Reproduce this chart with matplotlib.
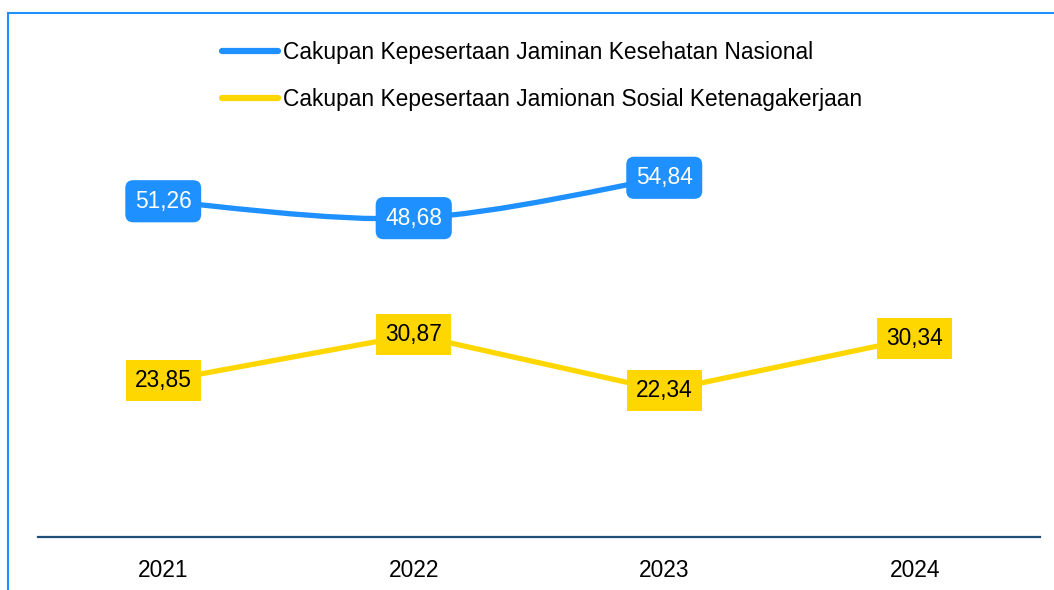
import numpy as np
import matplotlib.pyplot as plt
from matplotlib.path import Path
from matplotlib.patches import PathPatch
from matplotlib.lines import Line2D

plt.rcParams['font.family'] = ['Liberation Sans', 'DejaVu Sans']

# data
years = ['2021', '2022', '2023', '2024']
jkn = [51.26, 48.68, 54.84]          # 2024 kosong
bpjstk = [23.85, 30.87, 22.34, 30.34]
label_jkn = 'Cakupan Kepesertaan Jaminan Kesehatan Nasional'
label_tk = 'Cakupan Kepesertaan Jamionan Sosial Ketenagakerjaan'

blue = '#1E90FF'
gold = '#FFD700'
fs = 16.4

fig = plt.figure(figsize=(10.54, 5.9), dpi=100)
ax = fig.add_axes([38 / 1054, 1 - 537 / 590, 1002 / 1054, 524 / 590])
ax.set_xlim(-0.5, 3.5)
ax.set_ylim(0, 80)

# garis halus (bezier) untuk JKN
xs = np.arange(len(jkn))
pts = np.column_stack([xs, jkn])
verts = [pts[0]]
codes = [Path.MOVETO]
for i in range(len(pts) - 1):
    p0 = pts[max(i - 1, 0)]
    p1 = pts[i]
    p2 = pts[i + 1]
    p3 = pts[min(i + 2, len(pts) - 1)]
    verts += [p1 + (p2 - p0) / 6, p2 - (p3 - p1) / 6, p2]
    codes += [Path.CURVE4] * 3
ax.add_patch(PathPatch(Path(verts, codes), fill=False, ec=blue, lw=3.8,
                       capstyle='round', joinstyle='round', zorder=2))

ax.plot(np.arange(len(bpjstk)), bpjstk, color=gold, lw=3.8,
        solid_capstyle='round', zorder=2)

# label nilai
for i, v in enumerate(jkn):
    ax.text(i, v, f'{v:.2f}'.replace('.', ','), ha='center', va='center',
            fontsize=fs, color='white', zorder=3,
            bbox=dict(boxstyle='round,pad=0.42,rounding_size=0.35', fc=blue, ec='none'))
for i, v in enumerate(bpjstk):
    ax.text(i, v, f'{v:.2f}'.replace('.', ','), ha='center', va='center',
            fontsize=fs, color='black', zorder=3,
            bbox=dict(boxstyle='square,pad=0.4', fc=gold, ec='none'))

# legenda
handles = [Line2D([], [], color=blue, lw=4.5, solid_capstyle='round'),
           Line2D([], [], color=gold, lw=4.5, solid_capstyle='round')]
ax.legend(handles, [label_jkn, label_tk], loc='upper left',
          bbox_to_anchor=(222 / 1054, 1 - 41 / 590), bbox_transform=fig.transFigure,
          frameon=False, fontsize=fs, handlelength=2.45, handletextpad=0.22,
          labelspacing=1.04, borderpad=0, borderaxespad=0)

ax.set_xticks(range(len(years)))
ax.set_xticklabels(years, fontsize=fs)
ax.set_yticks([])
ax.tick_params(axis='x', length=0, pad=15.5)
for s in ['left', 'right', 'top']:
    ax.spines[s].set_visible(False)
ax.spines['bottom'].set_color('#1F4E79')
ax.spines['bottom'].set_linewidth(1.6)

# bingkai
fig.add_artist(Line2D([8 / 1054, 8 / 1054], [0, 1 - 13 / 590], color=blue, lw=1.5))
fig.add_artist(Line2D([8 / 1054, 1], [1 - 13 / 590, 1 - 13 / 590], color=blue, lw=1.5))

fig.savefig('out.png', dpi=100)
